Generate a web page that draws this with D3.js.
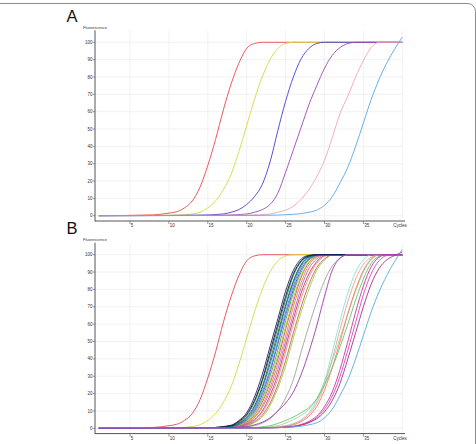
<!DOCTYPE html>
<html>
<head>
<meta charset="utf-8">
<script src="https://cdn.jsdelivr.net/npm/d3@7"></script>
<style>
  html, body { margin: 0; padding: 0; background: #fff; }
  svg { display: block; font-family: "Liberation Sans", Arial, sans-serif; }
</style>
</head>
<body>
<svg id="chart" width="476" height="444"></svg>
<script>
// ---- data: [cycle, fluorescence] ----
const xTicks = [5, 10, 15, 20, 25, 30, 35];
const yTicks = [0, 10, 20, 30, 40, 50, 60, 70, 80, 90, 100];
const xTitle = 'Cycles';
const yTitle = 'Fluorescence';

const redPts    = [[1,0],[8,0.5],[10,1.5],[11,2.3],[12,4.5],[13,8.5],[14,16.5],[15,29],[16,44],[17,61],[18,76],[19,88],[20,96.5],[21,99.3],[22,100],[40,100]];
const yellowPts = [[1,0],[11,0.3],[13,1],[14,2],[15,4.5],[16,8.5],[17,15],[18,24],[19,37],[20,52],[21,67],[22,80],[23,90],[24,96.5],[25,99.3],[26,100],[40,100]];
const bluePts   = [[1,0],[14,0.3],[17,1],[18,2],[19,3.5],[20,6.5],[21,11],[22,18],[23,31],[24,49],[25,66],[26,80],[27,90.5],[28,96.5],[29,99.3],[30,100],[40,100]];
const purplePts = [[1,0],[17,0.3],[20,1],[21,2],[22,3.5],[23,6.5],[24,13],[25,25],[26,38],[27,51],[28,64],[29,75],[30,85],[31,92.5],[32,97],[33,99.3],[34,100],[40,100]];
const pinkPts   = [[1,0],[20,0.3],[23,1],[24,2],[25,3.2],[26,5.5],[27,9.5],[28,15],[29,22.5],[30,32],[31,45],[32,59],[33,69],[34,80],[35,89.5],[36,97],[37,100],[40,100]];
const skyPts    = [[1,0],[22,0.2],[26,0.8],[27,1.2],[28,2],[29,3.2],[30,6],[31,11],[32,19],[33,28],[34,40],[35,53.5],[36,67],[37,78.5],[38,88],[39,96],[40,103]];

// panel B samples
const b01 = [[1,0],[15,0.3],[18,1.8],[19,4.5],[20,9],[21,18],[22,31],[23,47],[24,63],[25,79],[26,91],[27,97.5],[28,99.6],[29,100],[40,100]];
const b02 = [[1,0],[15,0.3],[18,1.5],[19,4],[20,8],[21,16],[22,28],[23,44],[24,60],[25,76],[26,89],[27,96.5],[28,99.3],[29,100],[40,100]];
const b03 = [[1,0],[15,0.3],[18,1.4],[19,3.5],[20,7.5],[21,15],[22,27],[23,42],[24,58],[25,74],[26,88],[27,96],[28,99.2],[29,100],[40,100]];
const b04 = [[1,0],[15,0.3],[18,1.2],[19,3],[20,6.5],[21,13],[22,24],[23,39],[24,55],[25,71],[26,85],[27,94.5],[28,98.8],[29.5,100],[40,100]];
const b05 = [[1,0],[15,0.2],[18,1],[19,2.8],[20,6],[21,12],[22,23],[23,37],[24,53],[25,70],[26,84],[27,94],[28,98.5],[29.5,100],[40,100]];
const b06 = [[1,0],[16,0.3],[18,1],[19,2.5],[20,5.5],[21,11],[22,21],[23,34],[24,50],[25,67],[26,82],[27,93],[28,98],[29.5,100],[40,100]];
const b07 = [[1,0],[16,0.3],[18,0.9],[19,2.3],[20,5],[21,10],[22,19.5],[23,32.5],[24,48.5],[25,65],[26,80],[27,91.5],[28,97.5],[29.5,100],[40,100]];
const b08 = [[1,0],[16,0.3],[18,0.8],[19,2],[20,4.5],[21,9],[22,17.5],[23,30],[24,45],[25,62],[26,78],[27,90],[28,97],[29.5,100],[40,100]];
const b09 = [[1,0],[16,0.2],[19,1.8],[20,4],[21,8],[22,16],[23,27.5],[24,42],[25,58.5],[26,75],[27,88],[28,96],[29,99.3],[30,100],[40,100]];
const b10 = [[1,0],[16,0.2],[19,1.6],[20,3.6],[21,7.5],[22,15],[23,26],[24,40],[25,57],[26,73],[27,87],[28,95.5],[29,99],[30,100],[40,100]];
const b11 = [[1,0],[16,0.2],[19,1.4],[20,3.2],[21,6.5],[22,13],[23,23.5],[24,37],[25,53],[26,70],[27,84],[28,94],[29,98.5],[30,100],[40,100]];
const b12 = [[1,0],[17,0.3],[19,1.2],[20,2.8],[21,6],[22,12],[23,21.5],[24,34],[25,50],[26,66],[27,81],[28,92],[29,97.5],[30.2,100],[40,100]];
const b13 = [[1,0],[17,0.3],[19,1],[20,2.4],[21,5],[22,10],[23,19],[24,31],[25,47],[26,63],[27,78],[28,89],[29,96],[30.5,100],[40,100]];
const b14 = [[1,0],[17,0.3],[19,0.9],[20,2.1],[21,4.5],[22,9],[23,17],[24,28.5],[25,44],[26,60],[27,75],[28,87],[29,95],[30,99],[31,100],[40,100]];
const b15 = [[1,0],[17,0.2],[20,1.8],[21,3.8],[22,7.5],[23,14.5],[24,25],[25,39],[26,55],[27,70],[28,83],[29,92.5],[30,97.5],[31,100],[40,100]];
const b16 = [[1,0],[17,0.2],[20,1.5],[21,3.3],[22,6.5],[23,13],[24,23],[25,36],[26,52],[27,67],[28,80],[29,91],[30,97],[31.2,100],[40,100]];
const bGray   = [[1,0],[18,0.3],[21,1.5],[22,3],[23,5.5],[24,10],[25,17.5],[26,28],[27,44],[28,59],[29,73],[30,85],[31,93.5],[32,98],[33,100],[40,100]];
const bPurple = [[1,0],[17,0.3],[20,1],[21,2],[22,3.5],[23,6],[24,10],[25,14.5],[26,21],[27,31],[28,44],[29,59],[30,76],[31,91],[32,98],[33,100],[40,100]];
const c1 = [[1,0],[22,0.3],[25,1.5],[26,2.8],[27,5],[28,9],[29,16],[30,27],[31,44],[32,62],[33,78],[34,90],[35,97],[36,100],[40,100]];
const c2 = [[1,0],[22,0.3],[25,1.3],[26,2.5],[27,4.5],[28,8],[29,14.5],[30,25],[31,40],[32,57],[33,73],[34,86],[35,94.5],[36,98.5],[37,100],[40,100]];
const c3 = [[1,0],[21,0.3],[24,1.5],[25,3],[26,5],[27,7.5],[28,11],[29,17],[30,27],[31,39],[32,52],[33,66],[34,79],[35,90],[36,97],[37,100],[40,100]];
const c4 = [[1,0],[22,0.3],[25,1],[26,2],[27,3.8],[28,7],[29,12.5],[30,22],[31,35],[32,50],[33,66],[34,80],[35,91],[36,97.5],[37,100],[40,100]];
const c5 = [[1,0],[20,0.3],[23,1.5],[24,2.8],[25,4.5],[26,6.5],[27,9],[28,12],[29,17],[30,25],[31,35],[32,47],[33,60],[34,74],[35,86],[36,95],[37,99],[38,100],[40,100]];
const c6 = [[1,0],[23,0.3],[26,1.2],[27,2.2],[28,4],[29,7],[30,12.5],[31,21],[32,34],[33,50],[34,67],[35,82],[36,93],[37,98.5],[38,100],[40,100]];
const c7 = [[1,0],[23,0.3],[26,1],[27,2],[28,3.5],[29,6.2],[30,11],[31,18.5],[32,30],[33,45],[34,61],[35,77],[36,89],[37,96.5],[38,99.5],[39,100],[40,100]];
const c8 = [[1,0],[23,0.3],[26,0.9],[27,1.8],[28,3.2],[29,5.5],[30,9.5],[31,16],[32,26],[33,40],[34,55],[35,70],[36,83],[37,92],[38,97],[39,99.5],[40,101.5]];

const panelA = [
    { pts: redPts,    color: '#e8474f' },
    { pts: yellowPts, color: '#d6d83e' },
    { pts: bluePts,   color: '#4141d6' },
    { pts: purplePts, color: '#9a48b0' },
    { pts: pinkPts,   color: '#f4a3b6' },
    { pts: skyPts,    color: '#57a8e8' },
];

const panelB = [
    { pts: redPts,    color: '#e8474f' },
    { pts: yellowPts, color: '#d6d83e' },
    { pts: b16, color: '#a8c850' },
    { pts: b15, color: '#b0703a' },
    { pts: b14, color: '#e887b8' },
    { pts: b13, color: '#d83a30' },
    { pts: b12, color: '#a06ee0' },
    { pts: b11, color: '#e8842a' },
    { pts: b10, color: '#c43c9e' },
    { pts: b09, color: '#c9c530' },
    { pts: b08, color: '#3fae4a' },
    { pts: b07, color: '#6a3fc0' },
    { pts: b06, color: '#2a9ed8' },
    { pts: b05, color: '#2a5bd8' },
    { pts: b04, color: '#236b35' },
    { pts: b03, color: '#0f7f86' },
    { pts: b02, color: '#151515' },
    { pts: b01, color: '#1b1f6b' },
    { pts: bGray, color: '#a0a0a0' },
    { pts: c1, color: '#86e0e0' },
    { pts: c2, color: '#f4a08a' },
    { pts: c3, color: '#9ad89a' },
    { pts: c4, color: '#f07a6a' },
    { pts: c5, color: '#6cc070' },
    { pts: c6, color: '#c8389c' },
    { pts: c7, color: '#d04cb8' },
    { pts: c8, color: '#a82c8c' },
    { pts: skyPts, color: '#57a8e8' },
    { pts: bPurple, color: '#9c3aa8' },
];

const svg = d3.select('#chart');

// figure frame (top edge with rounded corner)
svg.append('path')
    .attr('d', 'M0,3.5 H467 A8,8 0 0 1 475.5,11.5 V444')
    .attr('fill', 'none').attr('stroke', '#8a8a8a').attr('stroke-width', 1);

const x = d3.scaleLinear().domain([5, 40]).range([130, 402.3]);
const axisLeft = 95, plotRight = 403;

function drawPanel(letter, curves, y0, y100) {
    const y = d3.scaleLinear().domain([0, 100]).range([y0, y100]);
    const axisY = y0 + 5.3;
    const top = y100 - 12;
    const g = svg.append('g');

    // grid
    g.selectAll('.gx').data([...xTicks, 40]).join('line')
        .attr('x1', d => x(d)).attr('x2', d => x(d))
        .attr('y1', top).attr('y2', axisY)
        .attr('stroke', '#ececec').attr('stroke-width', 0.7);
    g.selectAll('.gy').data(yTicks).join('line')
        .attr('x1', axisLeft).attr('x2', plotRight)
        .attr('y1', d => y(d)).attr('y2', d => y(d))
        .attr('stroke', '#ececec').attr('stroke-width', 0.7);

    // curves
    const line = d3.line().x(d => x(d[0])).y(d => y(d[1])).curve(d3.curveMonotoneX);
    curves.forEach(c => {
        g.append('path').datum(c.pts)
            .attr('fill', 'none').attr('stroke', c.color)
            .attr('stroke-width', 0.9).attr('d', line);
    });

    // axes
    g.append('line').attr('x1', axisLeft).attr('x2', axisLeft)
        .attr('y1', top).attr('y2', axisY + 0.5)
        .attr('stroke', '#555').attr('stroke-width', 1);
    g.append('line').attr('x1', axisLeft).attr('x2', plotRight + 2)
        .attr('y1', axisY).attr('y2', axisY)
        .attr('stroke', '#555').attr('stroke-width', 1);

    // x ticks + labels
    xTicks.forEach(t => {
        g.append('line').attr('x1', x(t)).attr('x2', x(t))
            .attr('y1', axisY).attr('y2', axisY + 3)
            .attr('stroke', '#555').attr('stroke-width', 0.6);
        g.append('text').attr('x', x(t) + 0.8).attr('y', axisY + 6)
            .attr('font-size', 4.5).attr('fill', '#333').text(t);
    });
    g.append('text').attr('x', 400).attr('y', axisY + 6)
        .attr('text-anchor', 'middle').attr('font-size', 4.5).attr('fill', '#333').text(xTitle);

    // y ticks + labels
    yTicks.forEach(t => {
        g.append('line').attr('x1', axisLeft - 2).attr('x2', axisLeft)
            .attr('y1', y(t)).attr('y2', y(t))
            .attr('stroke', '#555').attr('stroke-width', 0.6);
        g.append('text').attr('x', axisLeft - 2.5).attr('y', y(t)).attr('dy', '0.35em')
            .attr('text-anchor', 'end').attr('font-size', 4.5).attr('fill', '#333').text(t);
    });
    g.append('text').attr('x', 83).attr('y', y100 - 15).attr('dy', '0.35em')
        .attr('font-size', 4).attr('fill', '#333').text(yTitle);

    svg.append('text').attr('x', 66.5).attr('y', y100 - 20.5)
        .attr('font-size', 16.5).attr('fill', '#111').text(letter);
}

drawPanel('A', panelA, 215.7, 42.3);
drawPanel('B', panelB, 428.3, 254.7);
</script>
</body>
</html>
